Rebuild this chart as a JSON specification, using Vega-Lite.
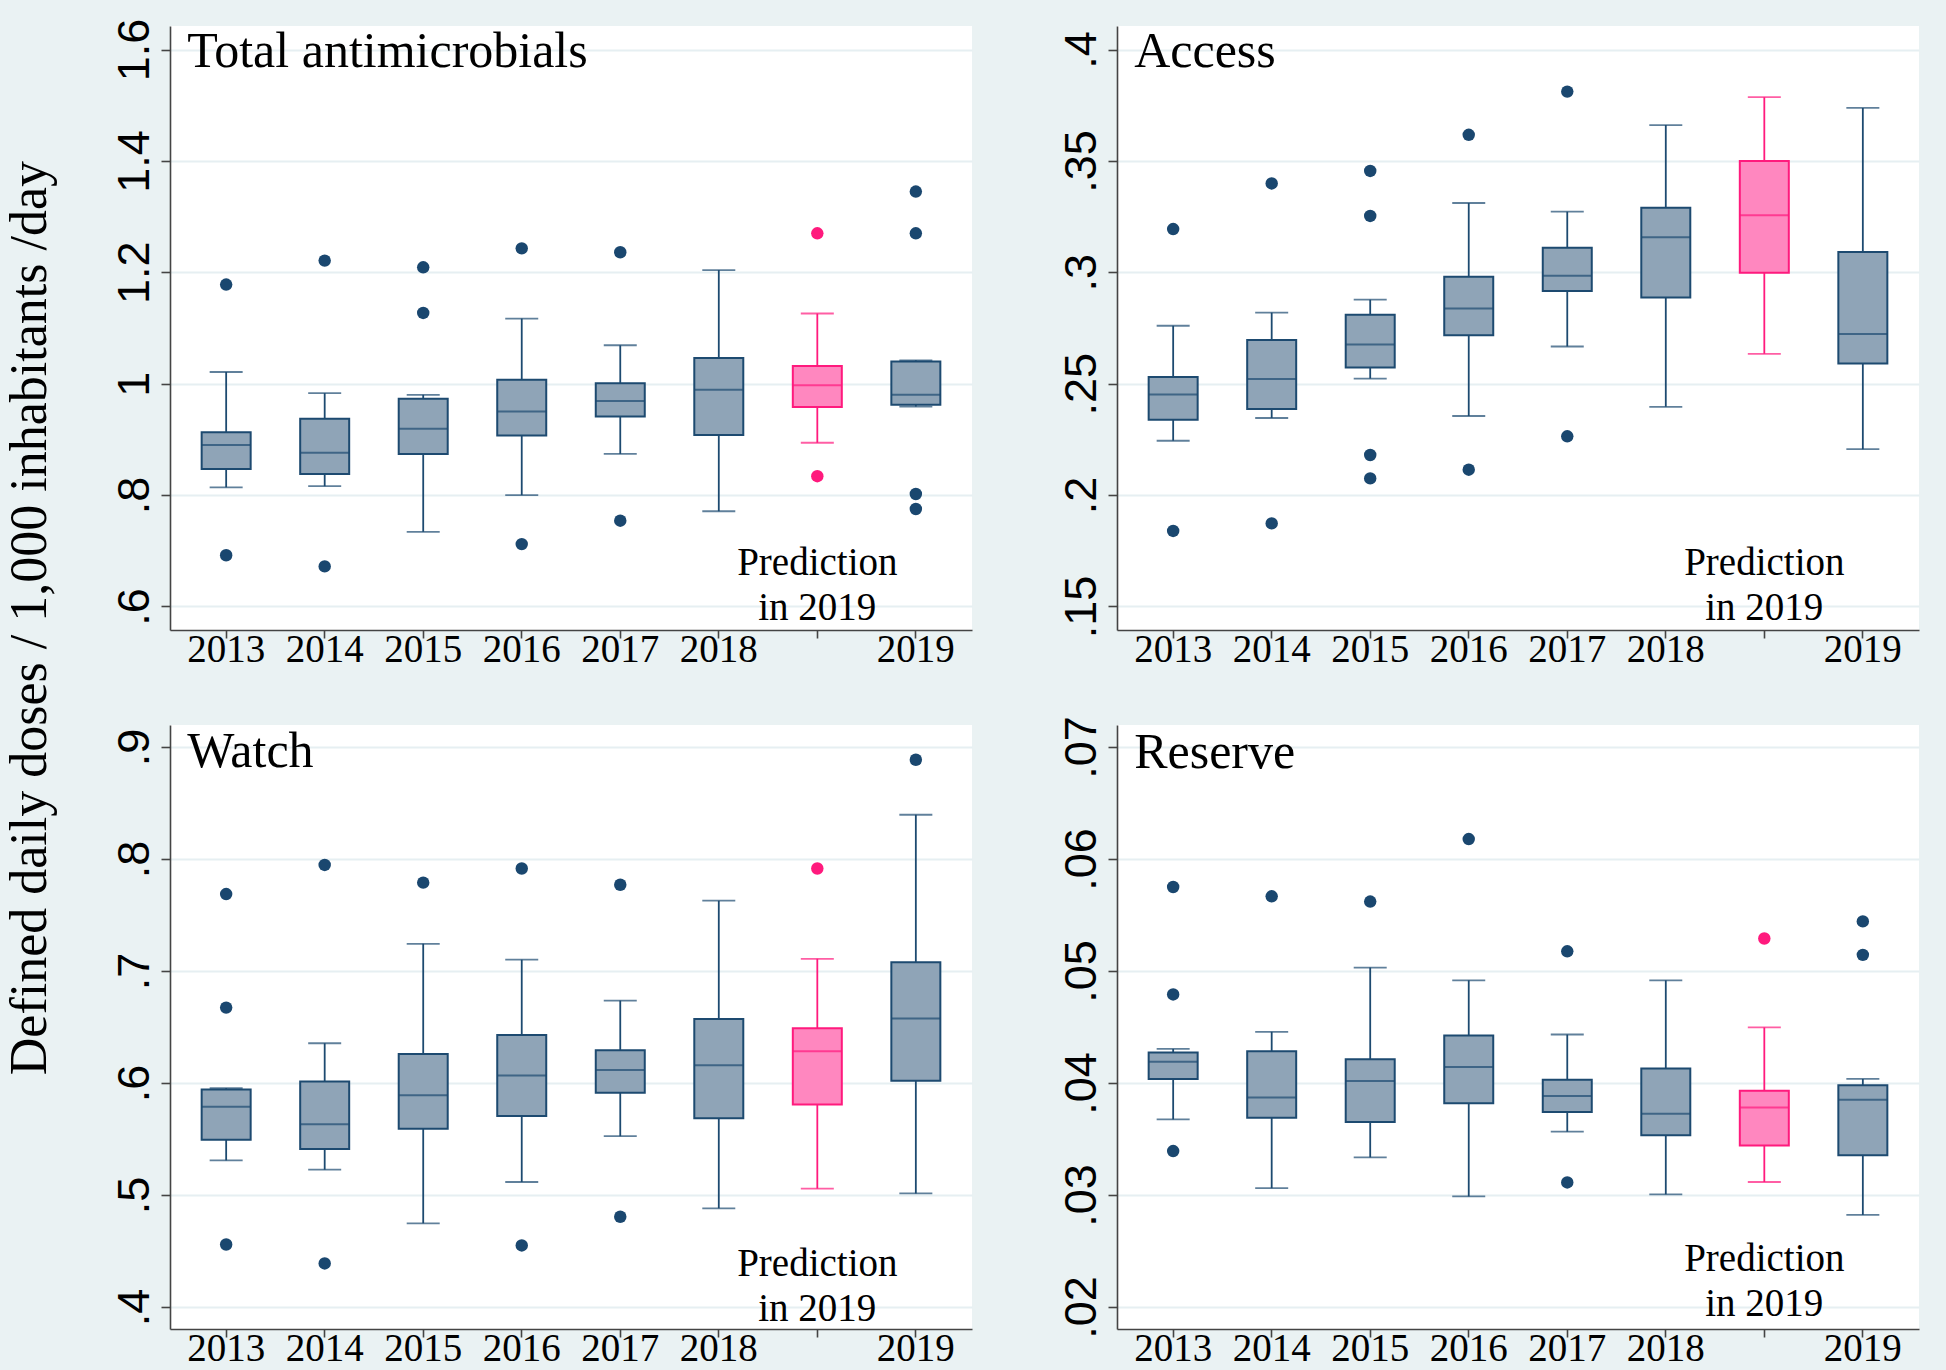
{
"$schema": "https://vega.github.io/schema/vega-lite/v6.json",
"background": "#eaf2f3",
"padding": {"left": 3, "top": 18, "right": 27, "bottom": 3},
"title": {"text": "Defined daily doses / 1,000 inhabitants /day", "orient": "left", "anchor": "middle", "font": "Liberation Serif", "fontSize": 52, "fontWeight": "normal", "color": "black", "offset": 55, "dx": 75},
"datasets": {
"boxes": [
{"panel":"Total","cat":"2013","lo":0.814,"q1":0.847,"med":0.890,"q3":0.913,"hi":1.021},
{"panel":"Total","cat":"2014","lo":0.816,"q1":0.838,"med":0.876,"q3":0.937,"hi":0.983},
{"panel":"Total","cat":"2015","lo":0.734,"q1":0.874,"med":0.919,"q3":0.973,"hi":0.980},
{"panel":"Total","cat":"2016","lo":0.800,"q1":0.907,"med":0.950,"q3":1.007,"hi":1.117},
{"panel":"Total","cat":"2017","lo":0.874,"q1":0.941,"med":0.969,"q3":1.001,"hi":1.069},
{"panel":"Total","cat":"2018","lo":0.771,"q1":0.908,"med":0.989,"q3":1.046,"hi":1.204},
{"panel":"Total","cat":"Pred","lo":0.894,"q1":0.958,"med":0.997,"q3":1.032,"hi":1.126},
{"panel":"Total","cat":"2019","lo":0.959,"q1":0.962,"med":0.980,"q3":1.040,"hi":1.042},
{"panel":"Access","cat":"2013","lo":0.2244,"q1":0.2338,"med":0.2452,"q3":0.2530,"hi":0.2760},
{"panel":"Access","cat":"2014","lo":0.2346,"q1":0.2386,"med":0.2521,"q3":0.2696,"hi":0.2819},
{"panel":"Access","cat":"2015","lo":0.2523,"q1":0.2573,"med":0.2676,"q3":0.2809,"hi":0.2877},
{"panel":"Access","cat":"2016","lo":0.2355,"q1":0.2717,"med":0.2838,"q3":0.2980,"hi":0.3311},
{"panel":"Access","cat":"2017","lo":0.2667,"q1":0.2916,"med":0.2984,"q3":0.3110,"hi":0.3272},
{"panel":"Access","cat":"2018","lo":0.2396,"q1":0.2887,"med":0.3157,"q3":0.3290,"hi":0.3661},
{"panel":"Access","cat":"Pred","lo":0.2634,"q1":0.2998,"med":0.3256,"q3":0.3500,"hi":0.3786},
{"panel":"Access","cat":"2019","lo":0.2206,"q1":0.2591,"med":0.2723,"q3":0.3091,"hi":0.3738},
{"panel":"Watch","cat":"2013","lo":0.5309,"q1":0.5494,"med":0.5789,"q3":0.5942,"hi":0.5954},
{"panel":"Watch","cat":"2014","lo":0.5226,"q1":0.5411,"med":0.5631,"q3":0.6013,"hi":0.6355},
{"panel":"Watch","cat":"2015","lo":0.4747,"q1":0.5592,"med":0.5891,"q3":0.6260,"hi":0.7243},
{"panel":"Watch","cat":"2016","lo":0.5116,"q1":0.5706,"med":0.6068,"q3":0.6429,"hi":0.7101},
{"panel":"Watch","cat":"2017","lo":0.5525,"q1":0.5914,"med":0.6115,"q3":0.6292,"hi":0.6736},
{"panel":"Watch","cat":"2018","lo":0.4881,"q1":0.5686,"med":0.6158,"q3":0.6571,"hi":0.7628},
{"panel":"Watch","cat":"Pred","lo":0.5057,"q1":0.5808,"med":0.6284,"q3":0.6488,"hi":0.7109},
{"panel":"Watch","cat":"2019","lo":0.5014,"q1":0.6020,"med":0.6575,"q3":0.7078,"hi":0.8395},
{"panel":"Reserve","cat":"2013","lo":0.03675,"q1":0.04036,"med":0.0419,"q3":0.04272,"hi":0.04304},
{"panel":"Reserve","cat":"2014","lo":0.03061,"q1":0.0369,"med":0.03871,"q3":0.04284,"hi":0.04457},
{"panel":"Reserve","cat":"2015","lo":0.03336,"q1":0.03651,"med":0.04017,"q3":0.04213,"hi":0.05031},
{"panel":"Reserve","cat":"2016","lo":0.02987,"q1":0.0382,"med":0.04142,"q3":0.04425,"hi":0.04917},
{"panel":"Reserve","cat":"2017","lo":0.03565,"q1":0.03741,"med":0.03883,"q3":0.04028,"hi":0.04433},
{"panel":"Reserve","cat":"2018","lo":0.03006,"q1":0.03533,"med":0.03726,"q3":0.0413,"hi":0.04917},
{"panel":"Reserve","cat":"Pred","lo":0.03116,"q1":0.03443,"med":0.03781,"q3":0.0393,"hi":0.04496},
{"panel":"Reserve","cat":"2019","lo":0.02822,"q1":0.03356,"med":0.03851,"q3":0.03981,"hi":0.04036}
],
"outliers": [
{"panel":"Total","cat":"2013","v":1.178},{"panel":"Total","cat":"2013","v":0.692},
{"panel":"Total","cat":"2014","v":1.221},{"panel":"Total","cat":"2014","v":0.672},
{"panel":"Total","cat":"2015","v":1.209},{"panel":"Total","cat":"2015","v":1.127},
{"panel":"Total","cat":"2016","v":1.243},{"panel":"Total","cat":"2016","v":0.712},
{"panel":"Total","cat":"2017","v":1.236},{"panel":"Total","cat":"2017","v":0.754},
{"panel":"Total","cat":"Pred","v":1.270},{"panel":"Total","cat":"Pred","v":0.834},
{"panel":"Total","cat":"2019","v":1.345},{"panel":"Total","cat":"2019","v":1.270},{"panel":"Total","cat":"2019","v":0.802},{"panel":"Total","cat":"2019","v":0.775},
{"panel":"Access","cat":"2013","v":0.3194},{"panel":"Access","cat":"2013","v":0.1839},
{"panel":"Access","cat":"2014","v":0.3399},{"panel":"Access","cat":"2014","v":0.1873},
{"panel":"Access","cat":"2015","v":0.3455},{"panel":"Access","cat":"2015","v":0.3253},{"panel":"Access","cat":"2015","v":0.2180},{"panel":"Access","cat":"2015","v":0.2075},
{"panel":"Access","cat":"2016","v":0.3617},{"panel":"Access","cat":"2016","v":0.2114},
{"panel":"Access","cat":"2017","v":0.3811},{"panel":"Access","cat":"2017","v":0.2264},
{"panel":"Watch","cat":"2013","v":0.7687},{"panel":"Watch","cat":"2013","v":0.6673},{"panel":"Watch","cat":"2013","v":0.4558},
{"panel":"Watch","cat":"2014","v":0.7947},{"panel":"Watch","cat":"2014","v":0.4389},
{"panel":"Watch","cat":"2015","v":0.7789},
{"panel":"Watch","cat":"2016","v":0.7915},{"panel":"Watch","cat":"2016","v":0.4550},
{"panel":"Watch","cat":"2017","v":0.7770},{"panel":"Watch","cat":"2017","v":0.4806},
{"panel":"Watch","cat":"Pred","v":0.7915},
{"panel":"Watch","cat":"2019","v":0.8886},
{"panel":"Reserve","cat":"2013","v":0.0575},{"panel":"Reserve","cat":"2013","v":0.04791},{"panel":"Reserve","cat":"2013","v":0.03392},
{"panel":"Reserve","cat":"2014","v":0.05667},
{"panel":"Reserve","cat":"2015","v":0.0562},
{"panel":"Reserve","cat":"2016","v":0.06178},
{"panel":"Reserve","cat":"2017","v":0.05176},{"panel":"Reserve","cat":"2017","v":0.03112},
{"panel":"Reserve","cat":"Pred","v":0.0529},
{"panel":"Reserve","cat":"2019","v":0.05443},{"panel":"Reserve","cat":"2019","v":0.05144}
]
},
"columns": 2,
"spacing": {"row": 46, "column": 86},
"concat": [
{
"width": 802, "height": 604,
"data": {"name": "boxes"},
"encoding": {"x": {"field": "cat", "type": "nominal", "title": null, "scale": {"domain": ["2013","2014","2015","2016","2017","2018","Pred","2019"], "paddingInner": 0, "paddingOuter": 0.07}, "axis": {"labelExpr": "datum.value === 'Pred' ? '' : datum.label"}}},
"layer": [
{"transform": [{"filter": "datum.panel === 'Total'"}], "mark": {"type": "rule", "strokeWidth": 1.8},
 "encoding": {"y": {"field": "lo", "type": "quantitative", "title": null, "scale": {"domain": [0.5578, 1.6422], "nice": false}, "axis": {"values": [0.6, 0.8, 1, 1.2, 1.4, 1.6], "labelExpr": "replace(format(datum.value, ''), '0.', '.')"}}, "y2": {"field": "hi"},
 "stroke": {"condition": {"test": "datum.cat === 'Pred'", "value": "#ff1a7d"}, "value": "#1d4a70"}}},
{"transform": [{"filter": "datum.panel === 'Total'"}], "mark": {"type": "bar", "width": 49, "strokeWidth": 2},
 "encoding": {"y": {"field": "q1", "type": "quantitative", "title": null, "scale": {"domain": [0.5578, 1.6422], "nice": false}}, "y2": {"field": "q3"},
 "fill": {"condition": {"test": "datum.cat === 'Pred'", "value": "#ff87bf"}, "value": "#8fa4b7"},
 "stroke": {"condition": {"test": "datum.cat === 'Pred'", "value": "#ff1a7d"}, "value": "#1d4a70"}}},
{"transform": [{"filter": "datum.panel === 'Total'"}], "mark": {"type": "tick", "size": 49, "thickness": 2},
 "encoding": {"y": {"field": "med", "type": "quantitative", "title": null, "scale": {"domain": [0.5578, 1.6422], "nice": false}},
 "color": {"condition": {"test": "datum.cat === 'Pred'", "value": "#ff1a7d"}, "value": "#1d4a70"}}},
{"transform": [{"filter": "datum.panel === 'Total'"}, {"fold": ["lo", "hi"], "as": ["k", "v"]}], "mark": {"type": "tick", "size": 33, "thickness": 1.8},
 "encoding": {"y": {"field": "v", "type": "quantitative", "title": null, "scale": {"domain": [0.5578, 1.6422], "nice": false}},
 "color": {"condition": {"test": "datum.cat === 'Pred'", "value": "#ff1a7d"}, "value": "#1d4a70"}}},
{"data": {"name": "outliers"}, "transform": [{"filter": "datum.panel === 'Total'"}], "mark": {"type": "point", "filled": true, "size": 155, "opacity": 1},
 "encoding": {"y": {"field": "v", "type": "quantitative", "title": null, "scale": {"domain": [0.5578, 1.6422], "nice": false}},
 "color": {"condition": {"test": "datum.cat === 'Pred'", "value": "#ff1a7d"}, "value": "#1a476f"}}},
{"transform": [{"filter": "datum.panel === 'Total' && datum.cat === 'Pred'"}], "mark": {"type": "text", "font": "Liberation Serif", "fontSize": 39, "baseline": "bottom", "align": "center", "lineHeight": 45, "dy": -47, "color": "black"},
 "encoding": {"y": {"datum": 0.5578, "type": "quantitative", "title": null, "scale": {"domain": [0.5578, 1.6422], "nice": false}}, "text": {"value": ["Prediction", "in 2019"]}}},
{"transform": [{"filter": "datum.panel === 'Total' && datum.cat === '2013'"}], "mark": {"type": "text", "font": "Liberation Serif", "fontSize": 50, "baseline": "top", "align": "left", "dx": -39, "dy": 1, "color": "black"},
 "encoding": {"y": {"datum": 1.6422, "type": "quantitative", "title": null, "scale": {"domain": [0.5578, 1.6422], "nice": false}}, "text": {"value": "Total antimicrobials"}}}
]
},
{
"width": 802, "height": 604,
"data": {"name": "boxes"},
"encoding": {"x": {"field": "cat", "type": "nominal", "title": null, "scale": {"domain": ["2013","2014","2015","2016","2017","2018","Pred","2019"], "paddingInner": 0, "paddingOuter": 0.07}, "axis": {"labelExpr": "datum.value === 'Pred' ? '' : datum.label"}}},
"layer": [
{"transform": [{"filter": "datum.panel === 'Access'"}], "mark": {"type": "rule", "strokeWidth": 1.8},
 "encoding": {"y": {"field": "lo", "type": "quantitative", "title": null, "scale": {"domain": [0.13945, 0.41055], "nice": false}, "axis": {"values": [0.15, 0.2, 0.25, 0.3, 0.35, 0.4], "labelExpr": "replace(format(datum.value, ''), '0.', '.')"}}, "y2": {"field": "hi"},
 "stroke": {"condition": {"test": "datum.cat === 'Pred'", "value": "#ff1a7d"}, "value": "#1d4a70"}}},
{"transform": [{"filter": "datum.panel === 'Access'"}], "mark": {"type": "bar", "width": 49, "strokeWidth": 2},
 "encoding": {"y": {"field": "q1", "type": "quantitative", "title": null, "scale": {"domain": [0.13945, 0.41055], "nice": false}}, "y2": {"field": "q3"},
 "fill": {"condition": {"test": "datum.cat === 'Pred'", "value": "#ff87bf"}, "value": "#8fa4b7"},
 "stroke": {"condition": {"test": "datum.cat === 'Pred'", "value": "#ff1a7d"}, "value": "#1d4a70"}}},
{"transform": [{"filter": "datum.panel === 'Access'"}], "mark": {"type": "tick", "size": 49, "thickness": 2},
 "encoding": {"y": {"field": "med", "type": "quantitative", "title": null, "scale": {"domain": [0.13945, 0.41055], "nice": false}},
 "color": {"condition": {"test": "datum.cat === 'Pred'", "value": "#ff1a7d"}, "value": "#1d4a70"}}},
{"transform": [{"filter": "datum.panel === 'Access'"}, {"fold": ["lo", "hi"], "as": ["k", "v"]}], "mark": {"type": "tick", "size": 33, "thickness": 1.8},
 "encoding": {"y": {"field": "v", "type": "quantitative", "title": null, "scale": {"domain": [0.13945, 0.41055], "nice": false}},
 "color": {"condition": {"test": "datum.cat === 'Pred'", "value": "#ff1a7d"}, "value": "#1d4a70"}}},
{"data": {"name": "outliers"}, "transform": [{"filter": "datum.panel === 'Access'"}], "mark": {"type": "point", "filled": true, "size": 155, "opacity": 1},
 "encoding": {"y": {"field": "v", "type": "quantitative", "title": null, "scale": {"domain": [0.13945, 0.41055], "nice": false}},
 "color": {"condition": {"test": "datum.cat === 'Pred'", "value": "#ff1a7d"}, "value": "#1a476f"}}},
{"transform": [{"filter": "datum.panel === 'Access' && datum.cat === 'Pred'"}], "mark": {"type": "text", "font": "Liberation Serif", "fontSize": 39, "baseline": "bottom", "align": "center", "lineHeight": 45, "dy": -47, "color": "black"},
 "encoding": {"y": {"datum": 0.13945, "type": "quantitative", "title": null, "scale": {"domain": [0.13945, 0.41055], "nice": false}}, "text": {"value": ["Prediction", "in 2019"]}}},
{"transform": [{"filter": "datum.panel === 'Access' && datum.cat === '2013'"}], "mark": {"type": "text", "font": "Liberation Serif", "fontSize": 50, "baseline": "top", "align": "left", "dx": -39, "dy": 1, "color": "black"},
 "encoding": {"y": {"datum": 0.41055, "type": "quantitative", "title": null, "scale": {"domain": [0.13945, 0.41055], "nice": false}}, "text": {"value": "Access"}}}
]
},
{
"width": 802, "height": 604,
"data": {"name": "boxes"},
"encoding": {"x": {"field": "cat", "type": "nominal", "title": null, "scale": {"domain": ["2013","2014","2015","2016","2017","2018","Pred","2019"], "paddingInner": 0, "paddingOuter": 0.07}, "axis": {"labelExpr": "datum.value === 'Pred' ? '' : datum.label"}}},
"layer": [
{"transform": [{"filter": "datum.panel === 'Watch'"}], "mark": {"type": "rule", "strokeWidth": 1.8},
 "encoding": {"y": {"field": "lo", "type": "quantitative", "title": null, "scale": {"domain": [0.38036, 0.91964], "nice": false}, "axis": {"values": [0.4, 0.5, 0.6, 0.7, 0.8, 0.9], "labelExpr": "replace(format(datum.value, ''), '0.', '.')"}}, "y2": {"field": "hi"},
 "stroke": {"condition": {"test": "datum.cat === 'Pred'", "value": "#ff1a7d"}, "value": "#1d4a70"}}},
{"transform": [{"filter": "datum.panel === 'Watch'"}], "mark": {"type": "bar", "width": 49, "strokeWidth": 2},
 "encoding": {"y": {"field": "q1", "type": "quantitative", "title": null, "scale": {"domain": [0.38036, 0.91964], "nice": false}}, "y2": {"field": "q3"},
 "fill": {"condition": {"test": "datum.cat === 'Pred'", "value": "#ff87bf"}, "value": "#8fa4b7"},
 "stroke": {"condition": {"test": "datum.cat === 'Pred'", "value": "#ff1a7d"}, "value": "#1d4a70"}}},
{"transform": [{"filter": "datum.panel === 'Watch'"}], "mark": {"type": "tick", "size": 49, "thickness": 2},
 "encoding": {"y": {"field": "med", "type": "quantitative", "title": null, "scale": {"domain": [0.38036, 0.91964], "nice": false}},
 "color": {"condition": {"test": "datum.cat === 'Pred'", "value": "#ff1a7d"}, "value": "#1d4a70"}}},
{"transform": [{"filter": "datum.panel === 'Watch'"}, {"fold": ["lo", "hi"], "as": ["k", "v"]}], "mark": {"type": "tick", "size": 33, "thickness": 1.8},
 "encoding": {"y": {"field": "v", "type": "quantitative", "title": null, "scale": {"domain": [0.38036, 0.91964], "nice": false}},
 "color": {"condition": {"test": "datum.cat === 'Pred'", "value": "#ff1a7d"}, "value": "#1d4a70"}}},
{"data": {"name": "outliers"}, "transform": [{"filter": "datum.panel === 'Watch'"}], "mark": {"type": "point", "filled": true, "size": 155, "opacity": 1},
 "encoding": {"y": {"field": "v", "type": "quantitative", "title": null, "scale": {"domain": [0.38036, 0.91964], "nice": false}},
 "color": {"condition": {"test": "datum.cat === 'Pred'", "value": "#ff1a7d"}, "value": "#1a476f"}}},
{"transform": [{"filter": "datum.panel === 'Watch' && datum.cat === 'Pred'"}], "mark": {"type": "text", "font": "Liberation Serif", "fontSize": 39, "baseline": "bottom", "align": "center", "lineHeight": 45, "dy": -45, "color": "black"},
 "encoding": {"y": {"datum": 0.38036, "type": "quantitative", "title": null, "scale": {"domain": [0.38036, 0.91964], "nice": false}}, "text": {"value": ["Prediction", "in 2019"]}}},
{"transform": [{"filter": "datum.panel === 'Watch' && datum.cat === '2013'"}], "mark": {"type": "text", "font": "Liberation Serif", "fontSize": 50, "baseline": "top", "align": "left", "dx": -39, "dy": 2, "color": "black"},
 "encoding": {"y": {"datum": 0.91964, "type": "quantitative", "title": null, "scale": {"domain": [0.38036, 0.91964], "nice": false}}, "text": {"value": "Watch"}}}
]
},
{
"width": 802, "height": 604,
"data": {"name": "boxes"},
"encoding": {"x": {"field": "cat", "type": "nominal", "title": null, "scale": {"domain": ["2013","2014","2015","2016","2017","2018","Pred","2019"], "paddingInner": 0, "paddingOuter": 0.07}, "axis": {"labelExpr": "datum.value === 'Pred' ? '' : datum.label"}}},
"layer": [
{"transform": [{"filter": "datum.panel === 'Reserve'"}], "mark": {"type": "rule", "strokeWidth": 1.8},
 "encoding": {"y": {"field": "lo", "type": "quantitative", "title": null, "scale": {"domain": [0.018036, 0.071964], "nice": false}, "axis": {"values": [0.02, 0.03, 0.04, 0.05, 0.06, 0.07], "labelExpr": "replace(format(datum.value, ''), '0.', '.')"}}, "y2": {"field": "hi"},
 "stroke": {"condition": {"test": "datum.cat === 'Pred'", "value": "#ff1a7d"}, "value": "#1d4a70"}}},
{"transform": [{"filter": "datum.panel === 'Reserve'"}], "mark": {"type": "bar", "width": 49, "strokeWidth": 2},
 "encoding": {"y": {"field": "q1", "type": "quantitative", "title": null, "scale": {"domain": [0.018036, 0.071964], "nice": false}}, "y2": {"field": "q3"},
 "fill": {"condition": {"test": "datum.cat === 'Pred'", "value": "#ff87bf"}, "value": "#8fa4b7"},
 "stroke": {"condition": {"test": "datum.cat === 'Pred'", "value": "#ff1a7d"}, "value": "#1d4a70"}}},
{"transform": [{"filter": "datum.panel === 'Reserve'"}], "mark": {"type": "tick", "size": 49, "thickness": 2},
 "encoding": {"y": {"field": "med", "type": "quantitative", "title": null, "scale": {"domain": [0.018036, 0.071964], "nice": false}},
 "color": {"condition": {"test": "datum.cat === 'Pred'", "value": "#ff1a7d"}, "value": "#1d4a70"}}},
{"transform": [{"filter": "datum.panel === 'Reserve'"}, {"fold": ["lo", "hi"], "as": ["k", "v"]}], "mark": {"type": "tick", "size": 33, "thickness": 1.8},
 "encoding": {"y": {"field": "v", "type": "quantitative", "title": null, "scale": {"domain": [0.018036, 0.071964], "nice": false}},
 "color": {"condition": {"test": "datum.cat === 'Pred'", "value": "#ff1a7d"}, "value": "#1d4a70"}}},
{"data": {"name": "outliers"}, "transform": [{"filter": "datum.panel === 'Reserve'"}], "mark": {"type": "point", "filled": true, "size": 155, "opacity": 1},
 "encoding": {"y": {"field": "v", "type": "quantitative", "title": null, "scale": {"domain": [0.018036, 0.071964], "nice": false}},
 "color": {"condition": {"test": "datum.cat === 'Pred'", "value": "#ff1a7d"}, "value": "#1a476f"}}},
{"transform": [{"filter": "datum.panel === 'Reserve' && datum.cat === 'Pred'"}], "mark": {"type": "text", "font": "Liberation Serif", "fontSize": 39, "baseline": "bottom", "align": "center", "lineHeight": 45, "dy": -50, "color": "black"},
 "encoding": {"y": {"datum": 0.018036, "type": "quantitative", "title": null, "scale": {"domain": [0.018036, 0.071964], "nice": false}}, "text": {"value": ["Prediction", "in 2019"]}}},
{"transform": [{"filter": "datum.panel === 'Reserve' && datum.cat === '2013'"}], "mark": {"type": "text", "font": "Liberation Serif", "fontSize": 50, "baseline": "top", "align": "left", "dx": -39, "dy": 3, "color": "black"},
 "encoding": {"y": {"datum": 0.071964, "type": "quantitative", "title": null, "scale": {"domain": [0.018036, 0.071964], "nice": false}}, "text": {"value": "Reserve"}}}
]
}
],
"config": {
"view": {"fill": "white", "stroke": null},
"axis": {"domainColor": "#444444", "tickColor": "#444444", "domainWidth": 1.6, "tickWidth": 1.6, "labelColor": "black"},
"axisX": {"labelFont": "Liberation Serif", "labelFontSize": 39, "tickSize": 8, "labelPadding": 23, "labelBaseline": "alphabetic", "grid": false, "labelAngle": 0},
"axisY": {"labelFont": "Liberation Sans", "labelFontSize": 45, "labelAngle": 270, "labelAlign": "center", "labelBaseline": "bottom", "labelPadding": 4, "tickSize": 9, "grid": true, "gridColor": "#e6eff2", "gridWidth": 2}
}
}
